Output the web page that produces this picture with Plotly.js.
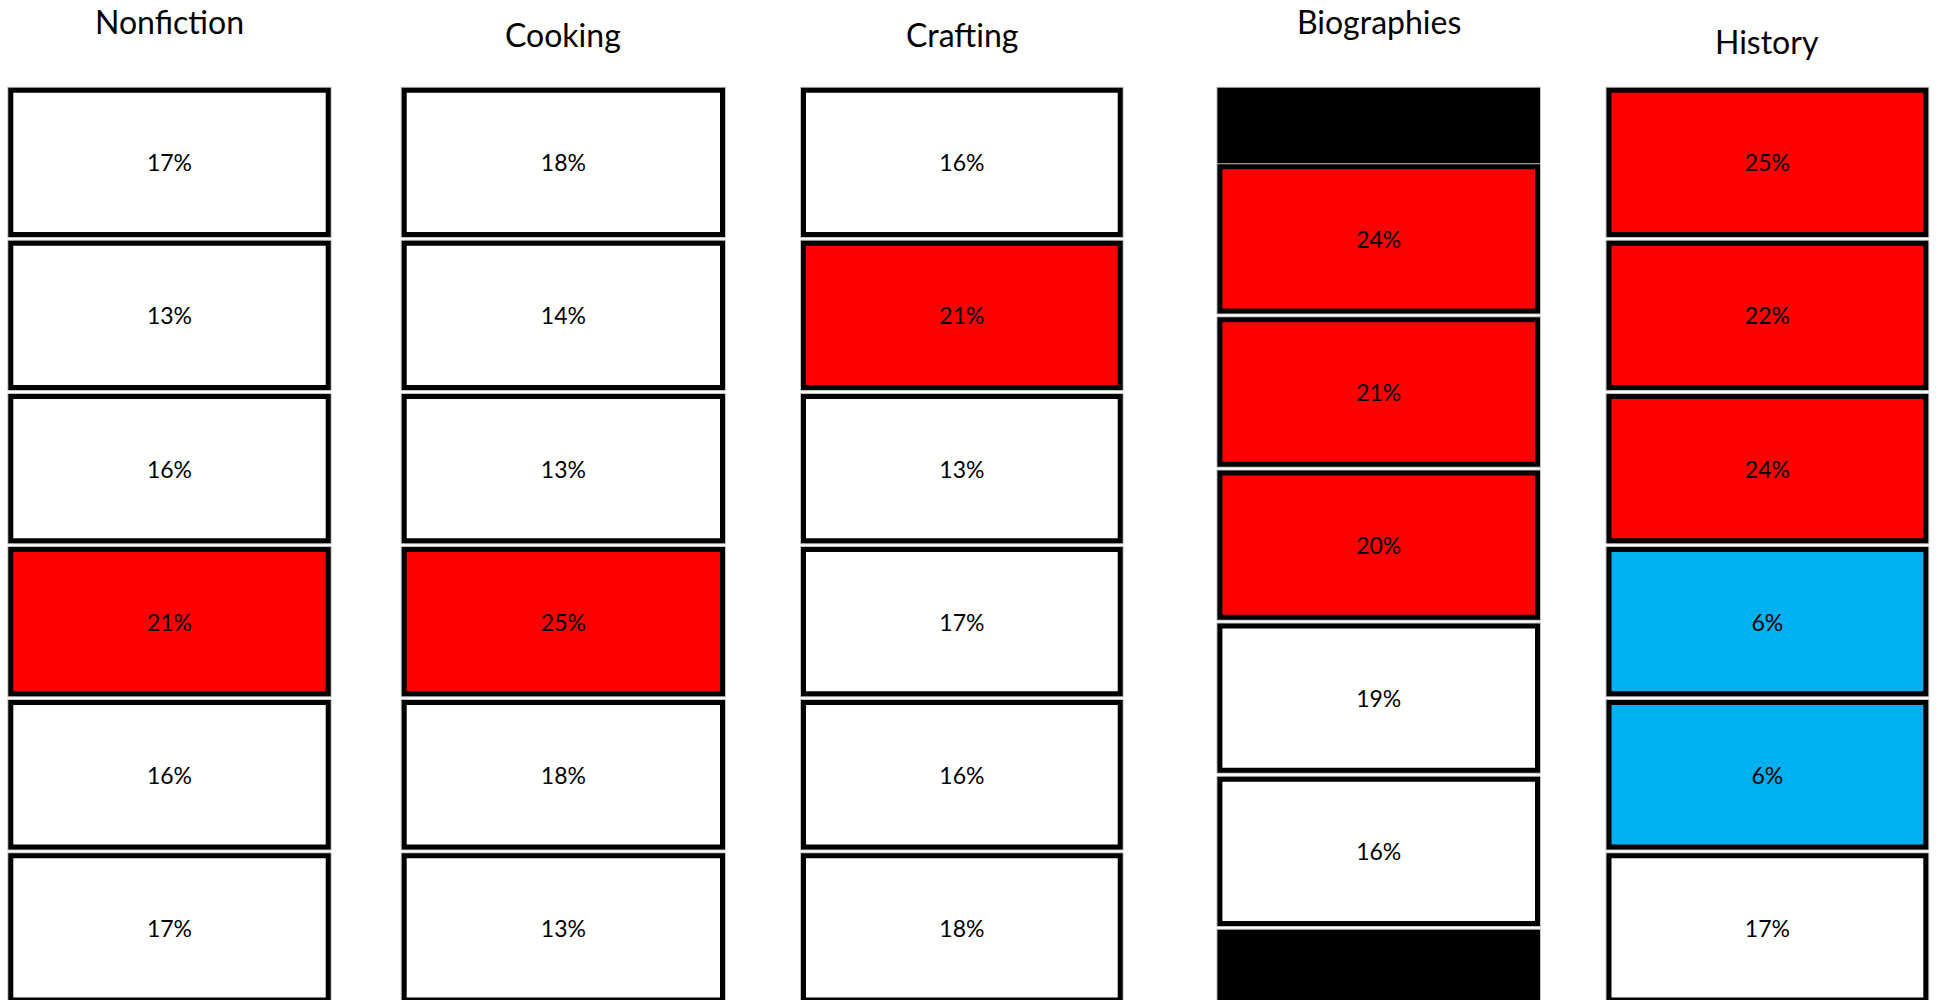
<!DOCTYPE html>
<html>
<head>
<meta charset="utf-8">
<script src="https://cdn.plot.ly/plotly-3.0.1.min.js"></script>
<style>
  html, body { margin: 0; padding: 0; background: #ffffff; }
  #chart { width: 1938px; height: 1000px; }
</style>
</head>
<body>
<div id="chart"></div>
<script>
// ---------------- data ----------------
const categories = ["Nonfiction", "Cooking", "Crafting", "Biographies", "History"];
const nonfiction  = [17, 13, 16, 21, 16, 17];
const cooking     = [18, 14, 13, 25, 18, 13];
const crafting    = [16, 21, 13, 17, 16, 18];
const biographies = [24, 21, 20, 19, 16];
const history     = [25, 22, 24, 6, 6, 17];
const seriesValues = [nonfiction, cooking, crafting, biographies, history];

// ---------------- layout config ----------------
const W = 1938, H = 1000;
const colPx = [[10.8, 328.2], [404.2, 722.5], [803.5, 1120.2], [1219.9, 1537.5], [1609, 1925.8]];
const padPx = 8;                              // room so the thick borders are not clipped
const rowOffset = [0, 0, 0, 0.5, 0];          // Biographies column is shifted half a row
const titleCenterPx = [21.5, 34.2, 34.2, 21.5, 41.5];
const pitchPx = 153.1, firstTopPx = 90.2;
const boxH = 0.9425;                          // box height as a fraction of the row pitch
const yTop = -firstTopPx / pitchPx;
const yBottom = (H - firstTopPx) / pitchPx;

function cellColor(v) {
  if (v >= 20) return "#FF0000";
  if (v < 10) return "#00B0F0";
  return "#FFFFFF";
}

const traces = [];
const layout = {
  width: W, height: H,
  margin: { l: 0, r: 0, t: 0, b: 0, pad: 0 },
  paper_bgcolor: "#ffffff", plot_bgcolor: "rgba(0,0,0,0)",
  showlegend: false, barmode: "overlay",
  yaxis: { range: [yBottom, yTop], visible: false, fixedrange: true, domain: [0, 1] },
  annotations: []
};

categories.forEach((cat, i) => {
  const vals = seriesValues[i];
  const off = rowOffset[i];
  const ys = [], bases = [], colors = [], texts = [];
  if (off > 0) {               // black filler at top
    bases.push(0); ys.push(off - 0.04); colors.push("#000000"); texts.push("");
  }
  vals.forEach((v, k) => {
    bases.push(off + k); ys.push(boxH); colors.push(cellColor(v)); texts.push(v + "%");
  });
  if (off > 0) {               // black filler at bottom
    bases.push(off + vals.length); ys.push(1); colors.push("#000000"); texts.push("");
  }
  const xs = ys.map(() => 0.5);
  const axN = i === 0 ? "" : String(i + 1);
  const xa = "x" + axN;
  const gw = colPx[i][1] - colPx[i][0];
  const p = padPx / gw;
  layout["xaxis" + axN] = {
    domain: [(colPx[i][0] - padPx) / W, (colPx[i][1] + padPx) / W],
    range: [-p, 1 + p], visible: false, fixedrange: true, anchor: "y"
  };
  // thin grey outline underneath
  traces.push({
    type: "bar", x: xs, y: ys, base: bases, width: 1,
    xaxis: xa, yaxis: "y",
    marker: { color: "rgba(0,0,0,0)", line: { color: "#c4c4c4", width: 7 } },
    hoverinfo: "skip", textposition: "none"
  });
  traces.push({
    type: "bar", x: xs, y: ys, base: bases, width: 1,
    xaxis: xa, yaxis: "y",
    marker: { color: colors, line: { color: "#000000", width: 5 } },
    text: texts, textposition: "inside", insidetextanchor: "middle",
    textangle: 0, constraintext: "none",
    textfont: { family: "Lato, 'Open Sans', sans-serif", size: 23, color: "#000000" },
    hoverinfo: "none"
  });
  layout.annotations.push({
    text: cat, showarrow: false,
    xref: xa + " domain", x: 0.5, xanchor: "center",
    yref: "paper", y: 1 - titleCenterPx[i] / H, yanchor: "middle",
    font: { family: "Lato, 'Open Sans', sans-serif", size: 32, color: "#000000" }
  });
});

Plotly.newPlot("chart", traces, layout, { displayModeBar: false, staticPlot: true });
</script>
</body>
</html>
